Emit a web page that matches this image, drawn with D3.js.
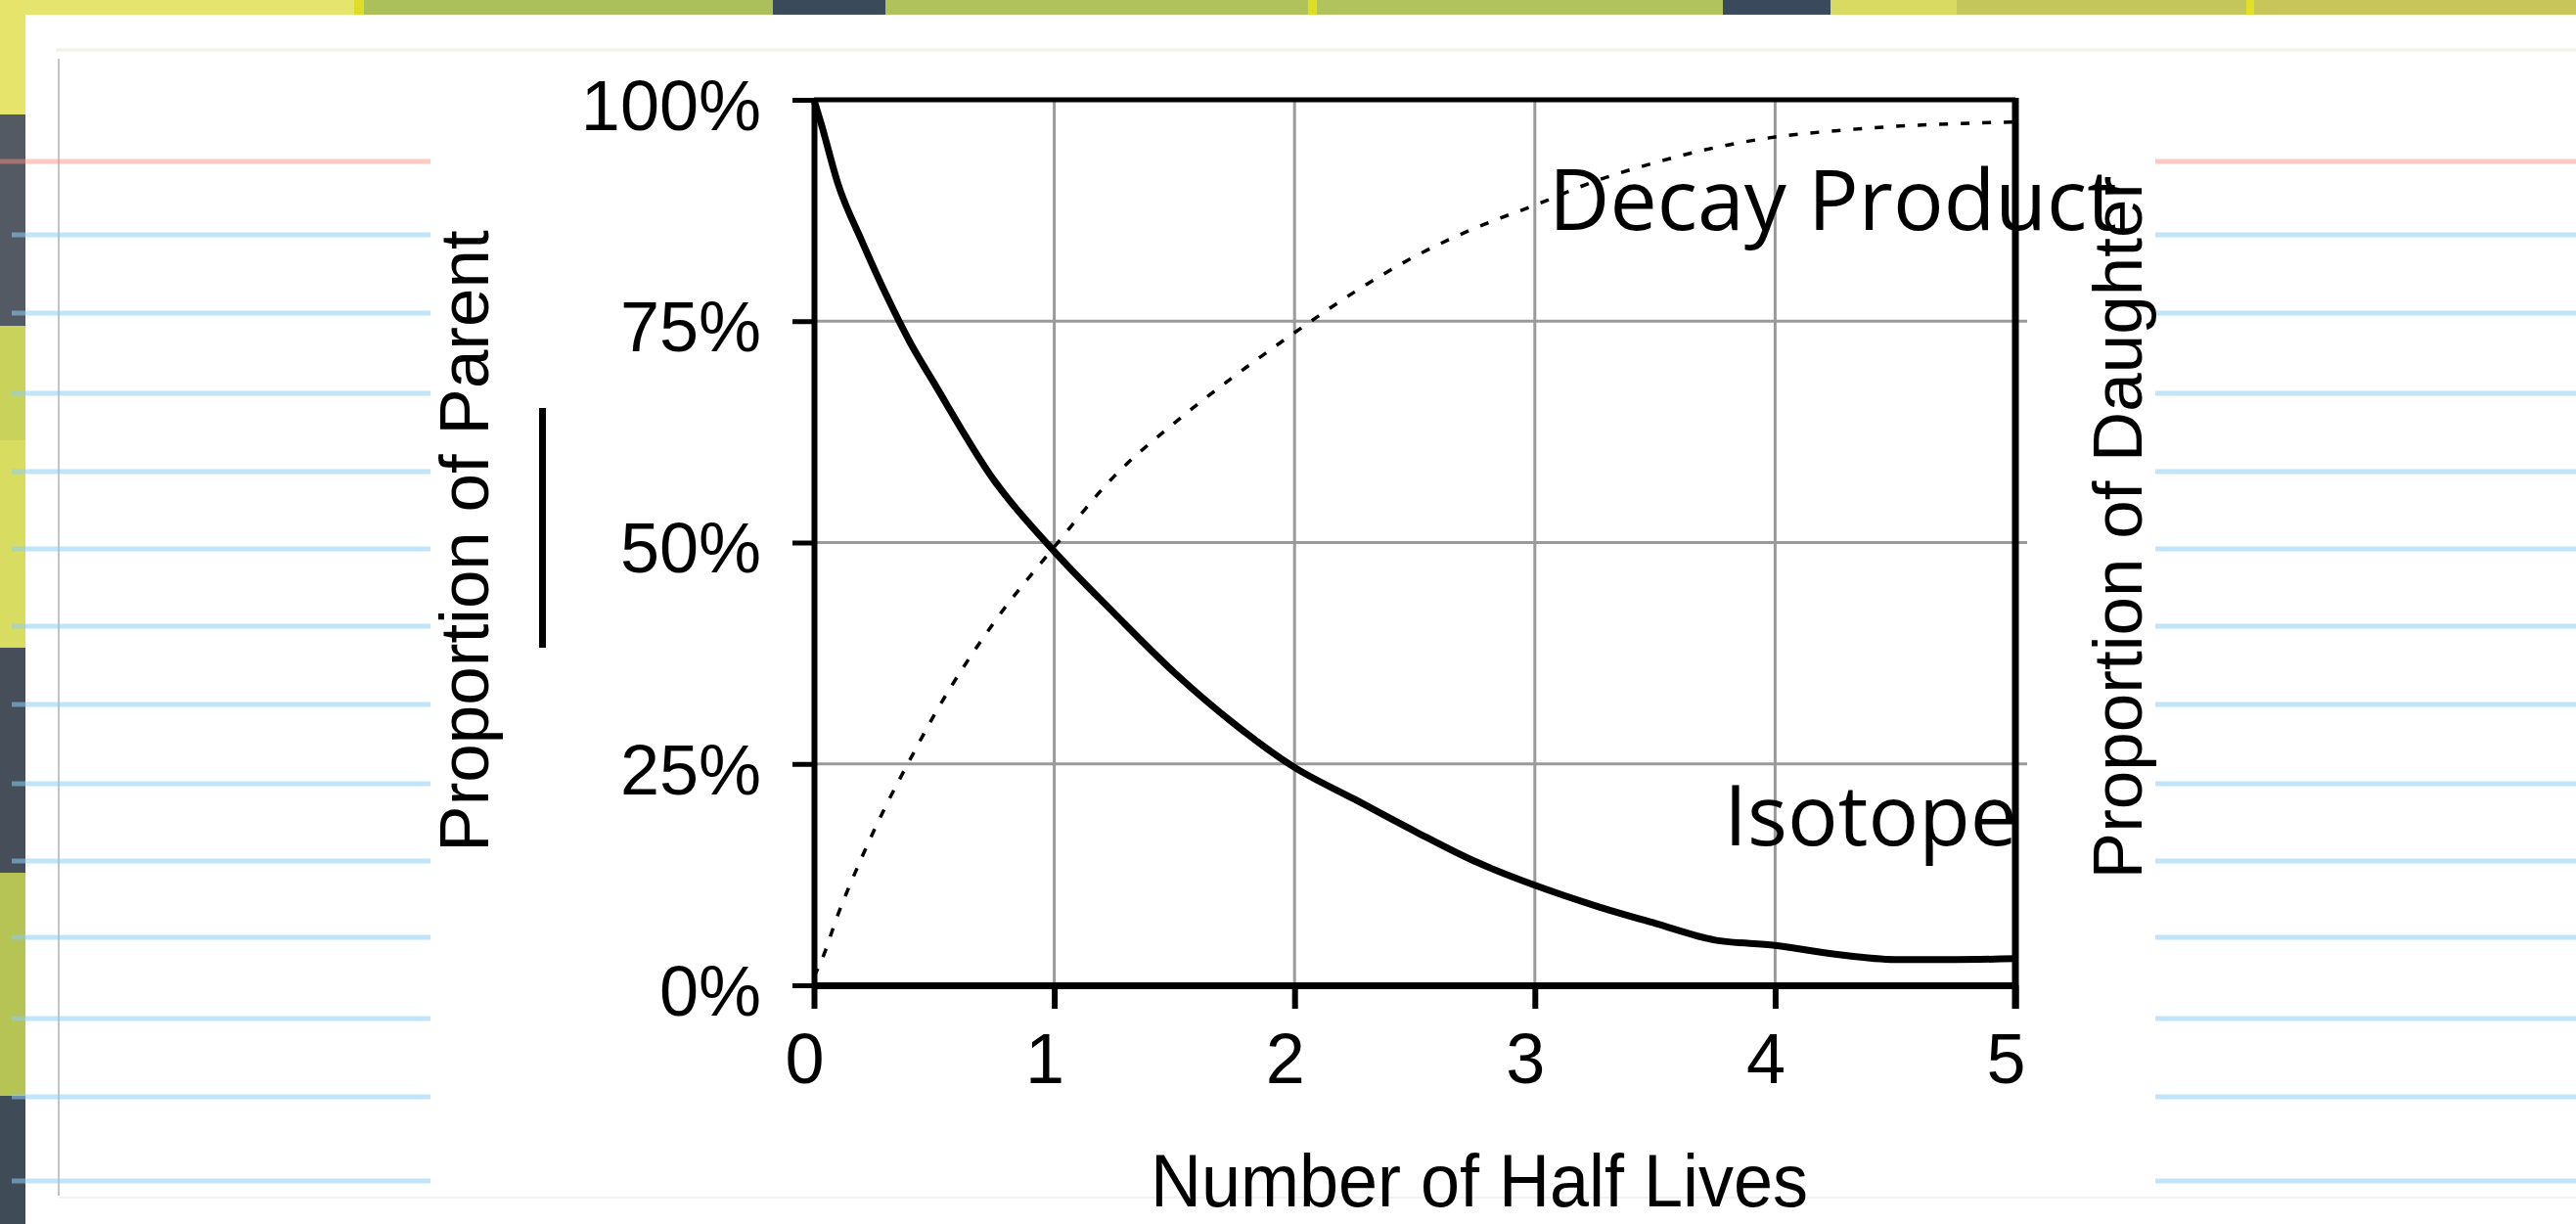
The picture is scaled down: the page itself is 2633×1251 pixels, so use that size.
<!DOCTYPE html>
<html>
<head>
<meta charset="utf-8">
<script src="https://cdn.jsdelivr.net/npm/d3@7"></script>
<style>
  html, body { margin: 0; padding: 0; background: #ffffff; }
  svg { display: block; }
</style>
</head>
<body>
<svg id="chart" width="2633" height="1251"></svg>
<script>
// values
const halfLives = [0, 0.03, 0.1, 0.2, 0.3, 0.4, 0.5, 0.75, 1, 1.25, 1.5, 1.75, 2, 2.25, 2.5, 2.75, 3, 3.25, 3.5, 3.75, 4, 4.25, 4.5, 4.75, 5];
const isotope = [100, 97.3, 90.5, 84, 78, 72.6, 68, 57, 49, 42, 35.3, 29.5, 24.6, 21, 17.4, 14, 11.3, 9, 7, 5.1, 4.5, 3.5, 2.9, 2.9, 3.0];
const decayProduct = [1, 2.7, 8, 14.5, 20.3, 25.5, 30.5, 41, 49.5, 57.5, 63.5, 68.8, 73.7, 78.3, 82.3, 85.5, 88.1, 90.8, 92.9, 94.6, 95.8, 96.5, 97, 97.3, 97.5];
const xTicks = [0, 1, 2, 3, 4, 5];
const yTicks = [0, 25, 50, 75, 100];

const W = 2633, H = 1251;
const svg = d3.select('#chart');

// ---- slide background (yellow/green pattern peeking out at top and left)
const bg = svg.append('g');
const topBand = [
  [0, 362, '#e4e46e'], [362, 372, '#dede2a'], [372, 790, '#abc05a'],
  [790, 905, '#3b4a5b'], [905, 1337, '#afc25c'], [1337, 1346, '#dede22'],
  [1346, 1761, '#b0c35c'], [1761, 1871, '#3a4a5c'], [1871, 2000, '#d9da62'],
  [2000, 2296, '#c4c55a'], [2296, 2304, '#e0e024'], [2304, W, '#c8c65a']
];
bg.selectAll('rect.top').data(topBand).join('rect')
  .attr('x', d => d[0]).attr('y', 0)
  .attr('width', d => d[1] - d[0]).attr('height', 16)
  .attr('fill', d => d[2]);
const leftBand = [
  [0, 117, '#e6e46a'], [117, 333, '#545a63'], [333, 450, '#c9d35c'],
  [450, 662, '#d8dc60'], [662, 892, '#454e59'], [892, 1120, '#b5c455'],
  [1120, H, '#404b58']
];
bg.selectAll('rect.left').data(leftBand).join('rect')
  .attr('x', 0).attr('y', d => d[0])
  .attr('width', 26).attr('height', d => d[1] - d[0])
  .attr('fill', d => d[2]);

// ---- notebook paper
const page = svg.append('g');
page.append('rect').attr('x', 26).attr('y', 15).attr('width', W - 26).attr('height', H - 15).attr('fill', '#ffffff');
page.append('line').attr('x1', 57).attr('x2', W).attr('y1', 51).attr('y2', 51)
  .attr('stroke', '#f1f1e6').attr('stroke-width', 3);
page.append('line').attr('x1', 60).attr('x2', 60).attr('y1', 60).attr('y2', 1222)
  .attr('stroke', '#c4c4c4').attr('stroke-width', 2);
page.append('line').attr('x1', 60).attr('x2', W).attr('y1', 1224).attr('y2', 1224)
  .attr('stroke', '#f2f2f2').attr('stroke-width', 2);

const ruled = [240, 320, 402, 482, 561, 640, 720, 801, 880, 958, 1041, 1121, 1207];
[[12, 440], [2203, W]].forEach(([a, b]) => {
  page.append('line').attr('x1', a === 12 ? 0 : a).attr('x2', b).attr('y1', 165).attr('y2', 165)
    .attr('stroke', 'rgba(255,140,125,0.48)').attr('stroke-width', 5);
  page.selectAll(null).data(ruled).join('line')
    .attr('x1', a).attr('x2', b).attr('y1', d => d).attr('y2', d => d)
    .attr('stroke', 'rgba(140,205,245,0.55)').attr('stroke-width', 5);
});

// ---- chart
const x = d3.scaleLinear().domain([0, 5]).range([832, 2060]);
const y = d3.scaleLinear().domain([0, 100]).range([1007, 102]);
const chart = svg.append('g');
const font = '"Liberation Sans", Arial, sans-serif';

// grid
chart.append('g')
  .selectAll('line').data(xTicks.slice(1, -1)).join('line')
  .attr('x1', d => x(d)).attr('x2', d => x(d))
  .attr('y1', y(100)).attr('y2', y(0))
  .attr('stroke', '#9a9a9a').attr('stroke-width', 3);
chart.append('g')
  .selectAll('line').data(yTicks.slice(1, -1)).join('line')
  .attr('x1', x(0)).attr('x2', x(5) + 12)
  .attr('y1', d => y(d)).attr('y2', d => y(d))
  .attr('stroke', '#9a9a9a').attr('stroke-width', 3);

// frame top / right
chart.append('line').attr('x1', x(0)).attr('x2', x(5)).attr('y1', y(100)).attr('y2', y(100))
  .attr('stroke', '#000').attr('stroke-width', 5);
chart.append('line').attr('x1', x(5)).attr('x2', x(5)).attr('y1', y(100) - 2).attr('y2', y(0) + 24)
  .attr('stroke', '#000').attr('stroke-width', 7);

// axes
const yAxis = chart.append('g')
  .attr('transform', `translate(${x(0)},0)`)
  .call(d3.axisLeft(y).tickValues(yTicks).tickFormat(d => d + '%').tickSize(22).tickSizeOuter(0).tickPadding(32));
const xAxis = chart.append('g')
  .attr('transform', `translate(0,${y(0)})`)
  .call(d3.axisBottom(x).tickValues(xTicks).tickFormat(d3.format('d')).tickSize(24).tickSizeOuter(0).tickPadding(25));

yAxis.select('.domain').attr('stroke', '#000').attr('stroke-width', 6);
xAxis.select('.domain').attr('stroke', '#000').attr('stroke-width', 7);
yAxis.selectAll('.tick line').attr('stroke', '#000').attr('stroke-width', 5);
xAxis.selectAll('.tick line').attr('stroke', '#000').attr('stroke-width', 6);
[yAxis, xAxis].forEach(a => a.selectAll('.tick text')
  .attr('fill', '#000').style('font-family', font).style('font-size', '72px'));
yAxis.selectAll('.tick text').attr('dy', '0.42em');
xAxis.selectAll('.tick text').attr('dx', -10);

// curves
const line = d3.line()
  .x((d, i) => x(halfLives[i]))
  .y(d => y(d))
  .curve(d3.curveMonotoneX);

chart.append('path').datum(decayProduct)
  .attr('d', line).attr('fill', 'none')
  .attr('stroke', '#000').attr('stroke-width', 3.5)
  .attr('stroke-dasharray', '9 13');

chart.append('path').datum(isotope)
  .attr('d', line).attr('fill', 'none')
  .attr('stroke', '#000').attr('stroke-width', 7)
  .attr('stroke-linejoin', 'round');

// axis titles
chart.append('text')
  .attr('transform', 'translate(1512,1233) scale(1,1.05)')
  .attr('text-anchor', 'middle')
  .style('font-family', font).style('font-size', '72px')
  .text('Number of Half Lives');

chart.append('text')
  .attr('transform', 'translate(499,553) rotate(-90)')
  .attr('text-anchor', 'middle')
  .style('font-family', font).style('font-size', '71px')
  .text('Proportion of Parent');

chart.append('rect')
  .attr('x', 551).attr('y', 417).attr('width', 7).attr('height', 245)
  .attr('fill', '#000');

chart.append('text')
  .attr('transform', 'translate(2189,539) rotate(-90)')
  .attr('text-anchor', 'middle')
  .style('font-family', font).style('font-size', '71px')
  .text('Proportion of Daughter');

// series labels
const labelFont = '"Open Sans", "Noto Sans", sans-serif';
chart.append('text')
  .attr('x', 1583).attr('y', 235)
  .style('font-family', labelFont).style('font-size', '86px')
  .text('Decay Product');
chart.append('text')
  .attr('x', 1762).attr('y', 864)
  .style('font-family', labelFont).style('font-size', '86px')
  .text('Isotope');
</script>
</body>
</html>
